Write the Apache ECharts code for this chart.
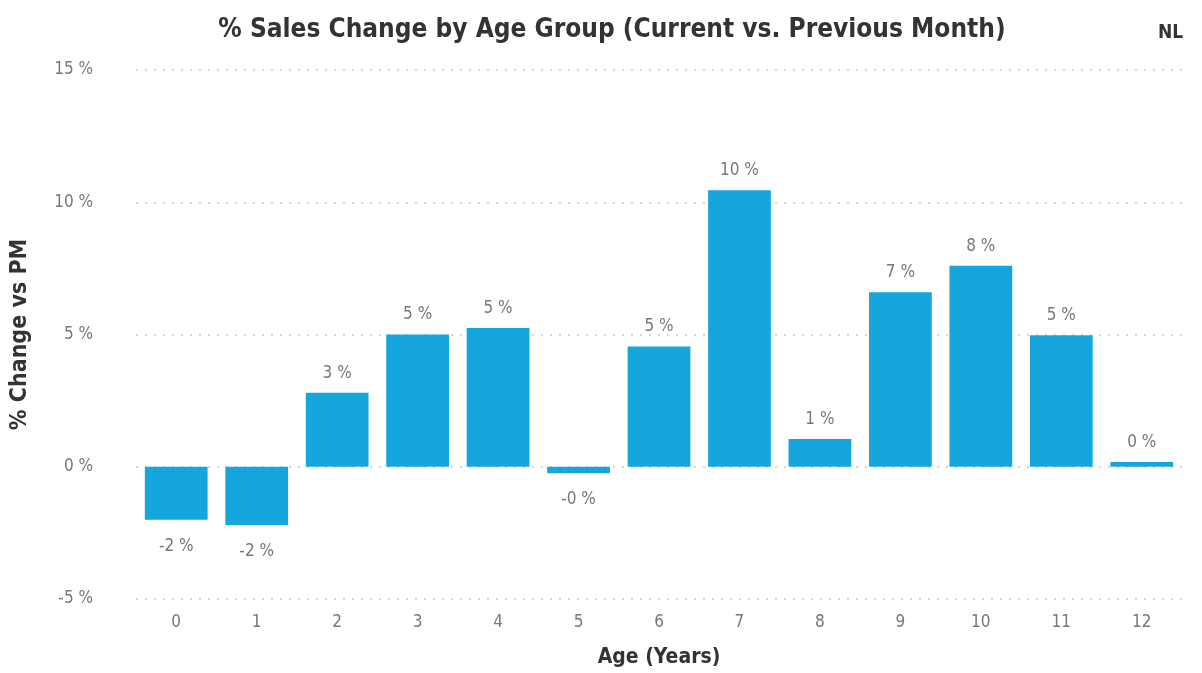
<!DOCTYPE html>
<html>
<head>
<meta charset="utf-8">
<script src="https://cdn.jsdelivr.net/npm/echarts@6/dist/echarts.min.js"></script>
<style>
  html, body { margin: 0; padding: 0; background: #fff; }
  #chart { width: 1202px; height: 673px; }
</style>
</head>
<body>
<div id="chart"></div>
<script>
const ages = ['0', '1', '2', '3', '4', '5', '6', '7', '8', '9', '10', '11', '12'];
const pctChange = [-2.0, -2.2, 2.8, 5.0, 5.25, -0.25, 4.55, 10.45, 1.05, 6.6, 7.6, 4.97, 0.18];
const yTicks = { min: -5, max: 15, step: 5 };

const fontFamily = '"DejaVu Sans Condensed", "Roboto", sans-serif';

function pctLabel(v) {
  const r = Math.round(Math.abs(v));
  return (v < 0 ? '-' : '') + r + ' %';
}

const barData = pctChange.map(v => ({
  value: v,
  label: v < 0 ? { position: 'bottom', distance: 18 } : { position: 'top', distance: 11 }
}));

const chart = echarts.init(document.getElementById('chart'));
chart.setOption({
  animation: false,
  textStyle: { fontFamily: fontFamily },
  title: [
    {
      text: '% Sales Change by Age Group (Current vs. Previous Month)',
      left: 607, top: 12, textAlign: 'center',
      textStyle: { fontFamily: fontFamily, fontSize: 26, fontWeight: 'bold', color: '#333' }
    },
    {
      text: 'NL',
      left: 1153, top: 19,
      textStyle: { fontFamily: fontFamily, fontSize: 19, fontWeight: 'bold', color: '#333' }
    }
  ],
  grid: { left: 136, right: 20, top: 70, bottom: 74 },
  xAxis: {
    type: 'category',
    data: ages,
    name: 'Age (Years)',
    nameLocation: 'middle',
    nameGap: 48,
    nameTextStyle: { fontSize: 21, fontWeight: 'bold', color: '#333' },
    axisLine: { show: false },
    axisTick: { show: false },
    axisLabel: { fontSize: 17, color: '#777', margin: 15 }
  },
  yAxis: {
    type: 'value',
    min: yTicks.min, max: yTicks.max, interval: yTicks.step,
    name: '% Change vs PM',
    nameLocation: 'middle',
    nameGap: 104,
    nameTextStyle: { fontSize: 23, fontWeight: 'bold', color: '#333' },
    axisLine: { show: false },
    axisTick: { show: false },
    axisLabel: { fontSize: 17, color: '#777', margin: 43, formatter: '{value} %' },
    splitLine: { lineStyle: { type: [2, 7], color: '#c8c8c8', width: 1.5 } }
  },
  series: [{
    type: 'bar',
    data: barData,
    barCategoryGap: '22%',
    itemStyle: { color: '#16a6de' },
    label: {
      show: true,
      fontSize: 17,
      color: '#777',
      formatter: p => pctLabel(p.value)
    }
  }]
});
</script>
</body>
</html>
